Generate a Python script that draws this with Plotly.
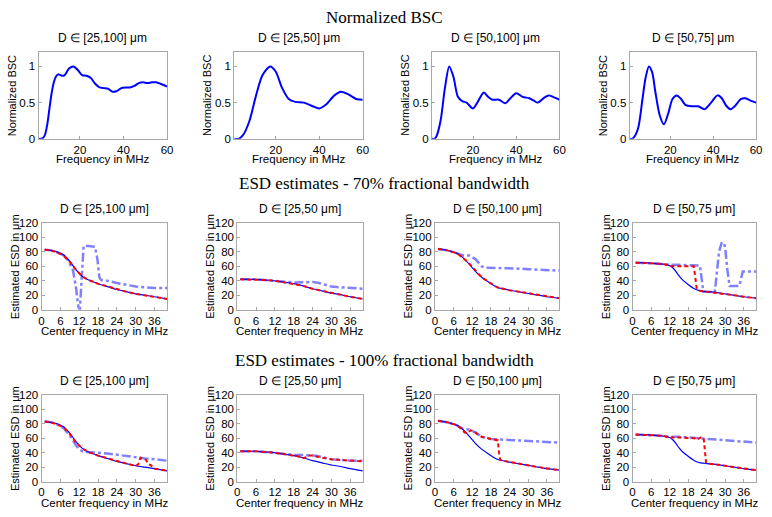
import plotly.graph_objects as go
from plotly.subplots import make_subplots

# ---- data ----
row_titles = ["Normalized BSC",
              "ESD estimates - 70% fractional bandwidth",
              "ESD estimates - 100% fractional bandwidth"]
bsc_titles = ["D \u2208 [25,100] \u03bcm", "D \u2208 [25,50] \u03bcm",
              "D \u2208 [50,100] \u03bcm", "D \u2208 [50,75] \u03bcm"]
esd_titles = ["D \u2208 [25,100 \u03bcm]", "D \u2208 [25,50 \u03bcm]",
              "D \u2208 [50,100 \u03bcm]", "D \u2208 [50,75 \u03bcm]"]
bounds = [[25, 100], [25, 50], [50, 100], [50, 75]]

bsc_ticks = [20, 40, 60]
esd_xticks = [0, 6, 12, 18, 24, 30, 36]
esd_yticks = [0, 20, 40, 60, 80, 100, 120]

# normalized BSC curves
bsc1_f = [1, 2, 3, 4, 5, 6, 7, 8, 9, 10, 11, 12, 13, 15, 17, 19, 21, 23, 25, 27, 29, 31,
          33, 35, 37, 39, 41, 43, 45, 47, 49, 51, 53, 55, 57, 60]
bsc1 = [0, 0, 0.01, 0.06, 0.2, 0.42, 0.63, 0.78, 0.86, 0.89, 0.88, 0.87, 0.88, 0.97, 1.0,
        0.95, 0.88, 0.87, 0.84, 0.76, 0.71, 0.70, 0.69, 0.65, 0.66, 0.70, 0.71, 0.71,
        0.73, 0.77, 0.78, 0.77, 0.78, 0.78, 0.76, 0.72]
bsc2_f = [1, 3, 5, 8, 11, 14, 17.5, 20, 23, 26, 29, 33, 37, 40, 43, 47, 50, 53, 57, 60]
bsc2 = [0, 0, 0.05, 0.25, 0.6, 0.88, 1.0, 0.93, 0.7, 0.55, 0.51, 0.5, 0.45, 0.42, 0.47,
        0.6, 0.65, 0.62, 0.55, 0.54]
bsc3_f = [1, 2, 3, 5, 7, 9, 11, 13, 15, 17, 20, 22, 25, 27, 29, 32, 35, 37, 40, 43, 46,
          48, 50, 53, 55, 57, 60]
bsc3 = [0, 0, 0.03, 0.25, 0.7, 1.0, 0.85, 0.58, 0.52, 0.5, 0.42, 0.5, 0.64, 0.58, 0.54,
        0.54, 0.49, 0.55, 0.63, 0.58, 0.56, 0.53, 0.5, 0.57, 0.6, 0.58, 0.54]
bsc4_f = [1, 2, 3, 5, 7, 8.5, 10, 11.5, 13, 15, 17, 19, 21, 23, 25, 27, 30, 33, 36, 39,
          42, 44, 46, 48, 50, 53, 55, 58, 60]
bsc4 = [0, 0, 0.02, 0.15, 0.55, 0.85, 1.0, 0.92, 0.65, 0.33, 0.2, 0.35, 0.55, 0.6, 0.55,
        0.47, 0.45, 0.45, 0.41, 0.5, 0.6, 0.56, 0.46, 0.41, 0.45, 0.55, 0.56, 0.52, 0.5]

# ESD: solid blue curves (same for both bandwidths)
blue1_x = [1, 3, 5, 7, 9, 11, 13, 15, 18, 21, 24, 27, 30, 33, 36, 40]
blue1_y = [83, 82, 80, 76, 67, 55, 46, 41, 36, 32, 28, 25, 22, 20, 18, 15]
blue2_x = [1, 3, 6, 9, 12, 15, 18, 21, 24, 27, 30, 33, 36, 40]
blue2_y = [42, 42, 42, 41, 40, 38, 36, 33, 29, 26, 23, 21, 18, 15]
blue3_x = [1, 4, 7, 9, 11, 13, 15, 17, 20, 24, 28, 32, 36, 40]
blue3_y = [84, 82, 78, 72, 63, 53, 45, 39, 31, 27, 24, 21, 18, 16]
blue4_x = [1, 4, 7, 10, 12, 13, 14, 15, 16, 18, 20, 22, 24, 27, 30, 33, 36, 40]
blue4_y = [65, 65, 64, 63, 61, 58, 53, 47, 42, 35, 29, 26, 25, 24, 22, 20, 18, 16]

# 70% bandwidth: red dashed and light-blue dash-dot
red70_1_x = blue1_x
red70_1_y = [83, 82, 79, 75, 66, 55, 46, 41, 36, 32, 28, 25, 22, 20, 18, 15]
dd70_1_x = [1, 3, 5, 7, 8.5, 10, 11, 11.7, 12.2, 12.8, 13.4, 15, 17, 17.8, 18.4, 19, 21,
            24, 27, 30, 33, 36, 40]
dd70_1_y = [83, 82, 79, 75, 68, 55, 30, 5, 0, 40, 88, 88, 87, 70, 45, 41, 40, 37, 34, 32,
            31, 30, 30]
red70_2_x = blue2_x
red70_2_y = [42, 42, 42, 41, 40, 38, 36, 33, 29, 26, 23, 21, 18, 15]
dd70_2_x = [1, 6, 12, 16, 19, 22, 24, 26, 28, 30, 33, 36, 40]
dd70_2_y = [42, 42, 40, 38, 37.5, 38, 38.5, 37, 34, 32, 31, 30, 29]
red70_3_x = blue3_x
red70_3_y = [84, 82, 78, 72, 64, 54, 45, 39, 31, 27, 24, 21, 18, 16]
dd70_3_x = [1, 4, 7, 9, 11, 12, 13, 14, 15, 16, 18, 22, 26, 30, 35, 40]
dd70_3_y = [84, 82, 78, 75, 75, 73, 70, 65, 60, 58, 58, 58, 57, 56, 55, 54]
red70_4_x = [1, 4, 7, 10, 12, 13, 15, 17, 19, 19.8, 20.3, 20.8, 22, 24, 27, 30, 33, 36, 40]
red70_4_y = [65, 65, 64, 63, 61, 60, 60, 60, 60, 60, 45, 28, 26, 25, 24, 22, 20, 18, 16]
dd70_4_x = [1, 4, 7, 10, 12, 13, 15, 18, 21, 21.8, 22.3, 22.9, 24, 26.6, 28, 28.8, 29.5,
            30, 30.7, 31.4, 33, 34.6, 35.2, 35.7, 37, 40]
dd70_4_y = [65, 65, 64, 63, 62, 62, 62, 62, 62, 61, 45, 25, 25, 24, 80, 92, 93, 85, 55,
            33, 33, 33, 45, 53, 53, 53]

# 100% bandwidth
red100_1_x = [1, 3, 5, 7, 9, 11, 13, 15, 18, 21, 24, 27, 30, 30.8, 31.5, 32.5, 33.3, 34,
              34.8, 36, 40]
red100_1_y = [83, 82, 79, 75, 66, 54, 46, 41, 36, 32, 28, 25, 22, 24, 33, 32, 30, 24, 23,
              18, 15]
dd100_1_x = [1, 3, 5, 7, 9, 11, 12, 13, 14, 16, 18, 21, 24, 27, 30, 33, 36, 40]
dd100_1_y = [83, 82, 79, 74, 64, 50, 45, 42, 41, 40, 40, 39, 37, 35, 33, 32, 31, 29]
red100_2_x = [1, 6, 12, 15, 18, 19.5, 20.5, 21.5, 22.5, 24, 26, 28, 30, 33, 36, 40]
red100_2_y = [42, 42, 40, 38, 36, 35, 32, 33, 36, 36, 34, 32, 31, 30, 29, 28]
dd100_2_x = [1, 6, 12, 15, 18, 20, 22, 24, 26, 28, 30, 33, 36, 40]
dd100_2_y = [42, 42, 40, 38, 37, 37, 37, 36, 35, 33, 31, 30, 29, 29]
red100_3_x = [1, 4, 7, 8.5, 9.5, 10.5, 11.5, 12.5, 13.5, 15, 17, 19, 20.2, 20.6, 21, 22,
              24, 28, 32, 36, 40]
red100_3_y = [84, 82, 78, 73, 68, 67, 71, 70, 66, 62, 60, 58, 57, 40, 30, 29, 27, 24, 21,
              18, 16]
dd100_3_x = [1, 4, 7, 9, 11, 13, 15, 18, 22, 26, 30, 35, 40]
dd100_3_y = [84, 82, 78, 73, 72, 68, 62, 59, 58, 57, 56, 55, 54]
red100_4_x = [1, 4, 7, 10, 11, 12, 15, 18, 20, 21, 22, 23, 23.4, 23.8, 24.5, 27, 30, 33,
              36, 40]
red100_4_y = [65, 65, 64, 63, 62, 61, 61, 61, 60, 58, 61, 61, 45, 26, 25, 24, 22, 20, 18, 16]
dd100_4_x = [1, 4, 7, 10, 12, 15, 18, 21, 24, 27, 30, 33, 36, 40]
dd100_4_y = [65, 65, 64, 63, 62, 62, 61, 60, 60, 58, 57, 56, 55, 54]

# ---- figure ----
W, H = 772, 517
BLUE = "#0000ff"
RED = "#ff0000"
LIGHT = "#8080ff"
FRAME = "#a8a8a8"
SANS = "Liberation Sans, Arial, sans-serif"
SERIF = "Liberation Serif, Times New Roman, serif"

# pixel boxes of the axes
col_px = [[36, 166], [234, 364], [434, 563], [634, 762]]
col_px_esd = [[39, 166], [237, 364], [437, 563], [637, 762]]
row_px = [[47, 136], [222, 311], [398, 487]]

fig = make_subplots(rows=3, cols=4)

bsc_f = [bsc1_f, bsc2_f, bsc3_f, bsc4_f]
bsc_y = [bsc1, bsc2, bsc3, bsc4]
blues = [(blue1_x, blue1_y), (blue2_x, blue2_y), (blue3_x, blue3_y), (blue4_x, blue4_y)]
reds = [[(red70_1_x, red70_1_y), (red70_2_x, red70_2_y), (red70_3_x, red70_3_y), (red70_4_x, red70_4_y)],
        [(red100_1_x, red100_1_y), (red100_2_x, red100_2_y), (red100_3_x, red100_3_y), (red100_4_x, red100_4_y)]]
dds = [[(dd70_1_x, dd70_1_y), (dd70_2_x, dd70_2_y), (dd70_3_x, dd70_3_y), (dd70_4_x, dd70_4_y)],
       [(dd100_1_x, dd100_1_y), (dd100_2_x, dd100_2_y), (dd100_3_x, dd100_3_y), (dd100_4_x, dd100_4_y)]]

for c in range(4):
    fig.add_trace(go.Scatter(x=bsc_f[c], y=bsc_y[c], mode="lines",
                             line=dict(color=BLUE, width=2, shape="spline", smoothing=0.8),
                             showlegend=False), row=1, col=c + 1)
    for r in range(2):
        for b in bounds[c]:
            fig.add_hline(y=b, line=dict(color="black", width=1, dash="dot"), row=r + 2, col=c + 1)
        fig.add_trace(go.Scatter(x=dds[r][c][0], y=dds[r][c][1], mode="lines",
                                 line=dict(color=LIGHT, width=2.5, dash="dashdot"),
                                 showlegend=False), row=r + 2, col=c + 1)
        fig.add_trace(go.Scatter(x=blues[c][0], y=blues[c][1], mode="lines",
                                 line=dict(color=BLUE, width=1.2, shape="spline", smoothing=0.6),
                                 showlegend=False), row=r + 2, col=c + 1)
        fig.add_trace(go.Scatter(x=reds[r][c][0], y=reds[r][c][1], mode="lines",
                                 line=dict(color=RED, width=2, dash="4px,3px"),
                                 showlegend=False), row=r + 2, col=c + 1)

axis_style = dict(showline=True, mirror=True, linecolor=FRAME, linewidth=1,
                  ticks="inside", ticklen=3, tickcolor=FRAME, showgrid=False,
                  zeroline=False, ticklabeloverflow="allow",
                  tickfont=dict(family=SANS, size=11.5, color="black"))

annotations = []
for r in range(3):
    y0, y1 = row_px[r]
    for c in range(4):
        idx = r * 4 + c + 1
        x0, x1 = col_px[c] if r == 0 else col_px_esd[c]
        xa = dict(axis_style, domain=[x0 / W, x1 / W])
        ya = dict(axis_style, domain=[1 - y1 / H, 1 - y0 / H])
        if r == 0:
            xa.update(range=[1, 60], tickvals=bsc_ticks)
            ya.update(range=[0, 1.2], tickvals=[0, 0.5, 1], ticktext=["0", "0.5", "1"])
            title, xt, yt = bsc_titles[c], "Frequency in MHz", "Normalized BSC"
            xt_off = 21
        else:
            xa.update(range=[0, 40], tickvals=esd_xticks)
            ya.update(range=[0, 120], tickvals=esd_yticks)
            title, xt, yt = esd_titles[c], "Center frequency in MHz", "Estimated ESD in \u03bcm"
            xt_off = 22
        fig.layout["xaxis%d" % idx].update(xa)
        fig.layout["yaxis%d" % idx].update(ya)
        cx = (x0 + x1) / 2
        annotations.append(dict(text=title, x=cx / W, y=1 - (y0 - 14) / H, xref="paper", yref="paper",
                                showarrow=False, font=dict(family=SANS, size=12, color="black"),
                                xanchor="center", yanchor="middle"))
        annotations.append(dict(text=xt, x=cx / W, y=1 - (y1 + xt_off) / H, xref="paper", yref="paper",
                                showarrow=False, font=dict(family=SANS, size=11.5, color="black"),
                                xanchor="center", yanchor="middle"))
        annotations.append(dict(text=yt, x=(x0 - 27) / W, y=1 - ((y0 + y1) / 2) / H,
                                xref="paper", yref="paper", textangle=-90,
                                showarrow=False, font=dict(family=SANS, size=11, color="black"),
                                xanchor="center", yanchor="middle"))

for t, py in zip(row_titles, [12, 182, 363]):
    annotations.append(dict(text=t, x=0.5, y=1 - py / H, xref="paper", yref="paper",
                            showarrow=False, font=dict(family=SERIF, size=17, color="black"),
                            xanchor="center", yanchor="middle"))

fig.update_layout(width=W, height=H, margin=dict(l=0, r=0, t=0, b=0),
                  paper_bgcolor="white", plot_bgcolor="white",
                  annotations=annotations, showlegend=False)

fig.write_html("out.html", config={"displayModeBar": False},
               post_script="document.body.style.margin='0px';")
